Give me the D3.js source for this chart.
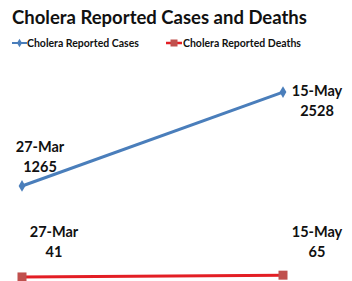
<!DOCTYPE html>
<html>
<head>
<meta charset="utf-8">
<script src="https://cdn.jsdelivr.net/npm/d3@7/dist/d3.min.js"></script>
<style>
  body { margin: 0; background: #fff; }
  text { font-family: Lato, "Open Sans", sans-serif; font-weight: 700; fill: #111; }
</style>
</head>
<body>
<div id="chart"></div>
<script>
// chart data
var dates = ["27-Mar", "15-May"];
var cases = [1265, 2528];
var deaths = [41, 65];
var seriesNames = ["Cholera Reported Cases", "Cholera Reported Deaths"];

var width = 352, height = 281;
var blue = "#4a7ebb", red = "#e31e24", redMarker = "#c0504d";

var svg = d3.select("#chart").append("svg")
    .attr("width", width)
    .attr("height", height);

var x = d3.scalePoint().domain(dates).range([22, 283]);
var y = d3.scaleLinear().domain([0, 3000]).range([280, 57]);

svg.append("text")
    .attr("x", 12).attr("y", 24)
    .style("font-size", "18.5px")
    .text("Cholera Reported Cases and Deaths");

// legend
var legend = svg.append("g").attr("class", "legend");
legend.append("line").attr("x1", 12).attr("x2", 27).attr("y1", 43).attr("y2", 43)
    .style("stroke", blue).style("stroke-width", 2);
legend.append("path").attr("d", d3.symbol(d3.symbolDiamond, 22)()).attr("transform", "translate(19.5,43)")
    .style("fill", blue);
legend.append("text").attr("x", 27).attr("y", 47).style("font-size", "10.5px").text(seriesNames[0]);
legend.append("line").attr("x1", 166).attr("x2", 182).attr("y1", 43).attr("y2", 43)
    .style("stroke", red).style("stroke-width", 2.5);
legend.append("rect").attr("x", 170.5).attr("y", 39.5).attr("width", 7).attr("height", 7)
    .style("fill", redMarker);
legend.append("text").attr("x", 183).attr("y", 47).style("font-size", "10.5px").text(seriesNames[1]);

var line = d3.line()
    .x(function (d, i) { return x(dates[i]); })
    .y(function (d) { return y(d); });

// cases
svg.append("path").datum(cases).attr("d", line)
    .style("fill", "none").style("stroke", blue).style("stroke-width", 3);
svg.selectAll(".diamond").data(cases).enter().append("path")
    .attr("class", "diamond")
    .attr("d", d3.symbol(d3.symbolDiamond, 40)())
    .attr("transform", function (d, i) { return "translate(" + x(dates[i]) + "," + y(d) + ")"; })
    .style("fill", blue);

// deaths
svg.append("path").datum(deaths).attr("d", line)
    .style("fill", "none").style("stroke", red).style("stroke-width", 3);
svg.selectAll(".square").data(deaths).enter().append("rect")
    .attr("class", "square")
    .attr("x", function (d, i) { return x(dates[i]) - 4.5; })
    .attr("y", function (d) { return y(d) - 4.5; })
    .attr("width", 9).attr("height", 9)
    .style("fill", redMarker);

// data labels: offsets from the point [dx, dy of first line]
var caseOffsets = [[18, -34], [34, 4]];
var deathOffsets = [[32, -40], [34, -38]];

function labels(values, offsets, cls) {
    var g = svg.selectAll("." + cls).data(values).enter().append("text")
        .attr("class", cls)
        .attr("text-anchor", "middle")
        .style("font-size", "14.5px")
        .attr("x", function (d, i) { return x(dates[i]) + offsets[i][0]; })
        .attr("y", function (d, i) { return y(d) + offsets[i][1]; });
    g.append("tspan").text(function (d, i) { return dates[i]; });
    g.append("tspan")
        .attr("x", function (d, i) { return x(dates[i]) + offsets[i][0]; })
        .attr("dy", 20)
        .text(function (d) { return d; });
}
labels(cases, caseOffsets, "clabel");
labels(deaths, deathOffsets, "dlabel");
</script>
</body>
</html>
